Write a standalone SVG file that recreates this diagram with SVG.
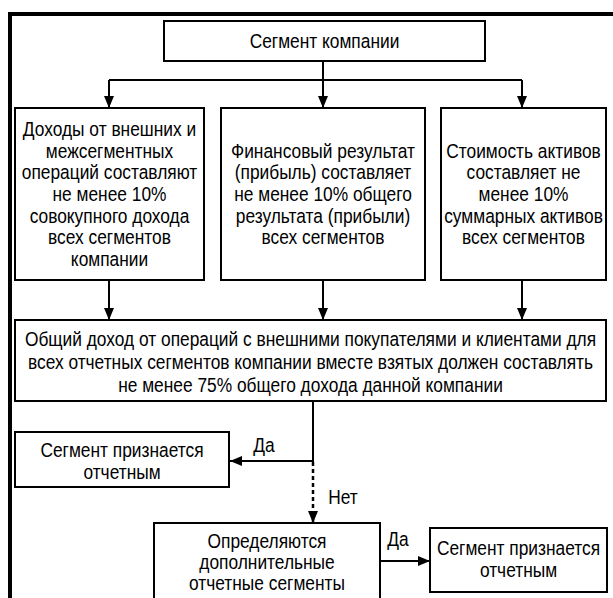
<svg xmlns="http://www.w3.org/2000/svg" width="613" height="598" viewBox="0 0 613 598">
<style>
.box{fill:#fff;stroke:#000;stroke-width:2}
.t{font-family:"Liberation Sans",Arial,sans-serif;font-size:19.5px;fill:#000;text-anchor:middle}
.c{fill:none;stroke:#000;stroke-width:2}
.d{fill:none;stroke:#000;stroke-width:2.5;stroke-dasharray:4 3}
</style>
<defs>
<marker id="ah" viewBox="0 0 12 10" refX="12" refY="5" markerWidth="12" markerHeight="10" markerUnits="userSpaceOnUse" orient="auto">
<path d="M0,0 L12,5 L0,10 z" fill="#000"/>
</marker>
</defs>
<rect width="613" height="598" fill="#fff"/>
<g id="frame">
<path d="M10,598 V14 H613" fill="none" stroke="#000" stroke-width="4"/>
</g>
<g id="connectors">
<path class="c" d="M323,61 V80"/>
<path class="c" d="M109,80 H522"/>
<path class="c" d="M109,80 V108" marker-end="url(#ah)"/>
<path class="c" d="M323,80 V108" marker-end="url(#ah)"/>
<path class="c" d="M522,80 V108" marker-end="url(#ah)"/>
<path class="c" d="M109,280 V320" marker-end="url(#ah)"/>
<path class="c" d="M323,280 V320" marker-end="url(#ah)"/>
<path class="c" d="M522,280 V320" marker-end="url(#ah)"/>
<path class="c" d="M313,401 V461 H230" marker-end="url(#ah)"/>
<path class="d" d="M313,462 V523" marker-end="url(#ah)"/>
<path class="c" d="M380,561 H430" marker-end="url(#ah)"/>
<g transform="translate(264 0) scale(0.89 1)"><text class="t" x="0" y="452">Да</text></g>
<g transform="translate(343 0) scale(0.89 1)"><text class="t" x="0" y="504">Нет</text></g>
<g transform="translate(398 0) scale(0.89 1)"><text class="t" x="0" y="546">Да</text></g>
</g>
<g id="top">
<rect class="box" x="164" y="21" width="321" height="40"/>
<g transform="translate(324.5 0) scale(0.89 1)">
<text class="t" x="0" y="48">Сегмент компании</text>
</g>
</g>
<g id="crit1">
<rect class="box" x="15" y="108" width="189" height="172"/>
<g transform="translate(109.5 0) scale(0.89 1)">
<text class="t" x="0" y="136">Доходы от внешних и</text>
<text class="t" x="0" y="158">межсегментных</text>
<text class="t" x="0" y="179">операций составляют</text>
<text class="t" x="0" y="201">не менее 10%</text>
<text class="t" x="0" y="223">совокупного дохода</text>
<text class="t" x="0" y="244">всех сегментов</text>
<text class="t" x="0" y="266">компании</text>
</g>
</g>
<g id="crit2">
<rect class="box" x="221" y="108" width="204" height="172"/>
<g transform="translate(323 0) scale(0.89 1)">
<text class="t" x="0" y="158">Финансовый результат</text>
<text class="t" x="0" y="179">(прибыль) составляет</text>
<text class="t" x="0" y="201">не менее 10% общего</text>
<text class="t" x="0" y="223">результата (прибыли)</text>
<text class="t" x="0" y="244">всех сегментов</text>
</g>
</g>
<g id="crit3">
<rect class="box" x="441" y="108" width="165" height="172"/>
<g transform="translate(523.5 0) scale(0.89 1)">
<text class="t" x="0" y="158">Стоимость активов</text>
<text class="t" x="0" y="179">составляет не</text>
<text class="t" x="0" y="201">менее 10%</text>
<text class="t" x="0" y="223">суммарных активов</text>
<text class="t" x="0" y="244">всех сегментов</text>
</g>
</g>
<g id="total">
<rect class="box" x="15" y="320" width="591" height="81"/>
<g transform="translate(310.5 0) scale(0.89 1)">
<text class="t" x="0" y="346">Общий доход от операций с внешними покупателями и клиентами для</text>
<text class="t" x="0" y="369">всех отчетных сегментов компании вместе взятых должен составлять</text>
<text class="t" x="0" y="392">не менее 75% общего дохода данной компании</text>
</g>
</g>
<g id="yes1">
<rect class="box" x="15" y="432" width="214" height="55"/>
<g transform="translate(122 0) scale(0.89 1)">
<text class="t" x="0" y="457">Сегмент признается</text>
<text class="t" x="0" y="479">отчетным</text>
</g>
</g>
<g id="extra">
<rect class="box" x="154" y="523" width="226" height="80"/>
<g transform="translate(267 0) scale(0.89 1)">
<text class="t" x="0" y="548">Определяются</text>
<text class="t" x="0" y="569">дополнительные</text>
<text class="t" x="0" y="590">отчетные сегменты</text>
</g>
</g>
<g id="yes2">
<rect class="box" x="430" y="528" width="177" height="64"/>
<g transform="translate(518.5 0) scale(0.89 1)">
<text class="t" x="0" y="555">Сегмент признается</text>
<text class="t" x="0" y="577">отчетным</text>
</g>
</g>
</svg>
